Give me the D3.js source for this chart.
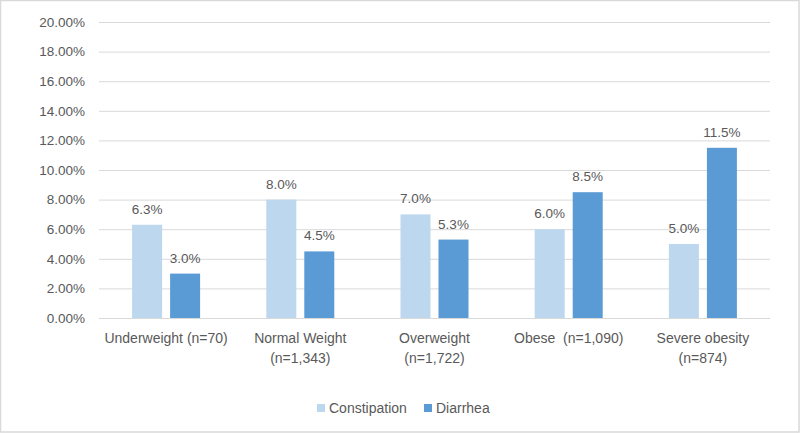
<!DOCTYPE html>
<html>
<head>
<meta charset="utf-8">
<script src="https://cdn.jsdelivr.net/npm/d3@7"></script>
<style>
  html, body { margin: 0; padding: 0; background: #fff; }
  svg { display: block; }
  text { font-family: "Liberation Sans", Arial, sans-serif; fill: #595959; }
</style>
</head>
<body>
<svg id="chart" width="800" height="433"></svg>
<script>
const categories = [
  ["Underweight (n=70)"],
  ["Normal Weight", "(n=1,343)"],
  ["Overweight", "(n=1,722)"],
  ["Obese  (n=1,090)"],
  ["Severe obesity", "(n=874)"]
];
const seriesNames = ["Constipation", "Diarrhea"];
const constipation = [6.3, 8.0, 7.0, 6.0, 5.0];
const diarrhea = [3.0, 4.5, 5.3, 8.5, 11.5];
const yTicks = [0, 2, 4, 6, 8, 10, 12, 14, 16, 18, 20];
const colors = ["#BDD7EE", "#5B9BD5"];

const svg = d3.select("#chart");
const W = 800, H = 433;

// outer frame
svg.append("rect").attr("x", 0.5).attr("y", 0.5).attr("width", W - 1.5).attr("height", H - 1.5)
  .attr("fill", "#fff").attr("stroke", "#d9d9d9").attr("stroke-width", 1.5);

const plot = { left: 99, right: 770, top: 22, bottom: 318 };

const y = d3.scaleLinear().domain([0, 20]).range([plot.bottom, plot.top]);
const x0 = d3.scaleBand().domain(d3.range(categories.length)).range([plot.left, plot.right]).paddingInner(0).paddingOuter(0);
const bw = 30, gap = 8;
const x1 = d3.scaleBand().domain([0, 1]).range([0, bw * 2 + gap]).paddingInner(gap / (bw + gap)).paddingOuter(0);

// gridlines
const yAxis = d3.axisLeft(y).tickValues(yTicks).tickSize(-(plot.right - plot.left))
  .tickFormat(d => d.toFixed(2) + "%").tickPadding(14);
const gy = svg.append("g").attr("transform", `translate(${plot.left},0)`).call(yAxis);
gy.select(".domain").remove();
gy.selectAll(".tick line").attr("stroke", "#d9d9d9").attr("stroke-width", 1);
gy.selectAll(".tick text").attr("font-size", 13.5).attr("fill", "#595959")
  .style("font-family", "'Liberation Sans', Arial, sans-serif");

// bars
const data = categories.map((c, i) => ({ i, vals: [constipation[i], diarrhea[i]] }));
const groupW = bw * 2 + gap;
const groups = svg.append("g").selectAll("g").data(data).join("g")
  .attr("transform", d => `translate(${x0(d.i) + (x0.bandwidth() - groupW) / 2},0)`);

groups.selectAll("rect").data(d => d.vals.map((v, k) => ({ v, k }))).join("rect")
  .attr("x", d => x1(d.k)).attr("width", x1.bandwidth())
  .attr("y", d => y(d.v)).attr("height", d => y(0) - y(d.v))
  .attr("fill", d => colors[d.k]);

groups.selectAll("text.lbl").data(d => d.vals.map((v, k) => ({ v, k }))).join("text")
  .attr("class", "lbl")
  .attr("x", d => x1(d.k) + x1.bandwidth() / 2)
  .attr("y", d => y(d.v) - 11)
  .attr("text-anchor", "middle").attr("font-size", 13.5)
  .text(d => d.v.toFixed(1) + "%");

// baseline axis
svg.append("line").attr("x1", plot.left).attr("x2", plot.right)
  .attr("y1", y(0) + 0.5).attr("y2", y(0) + 0.5).attr("stroke", "#d9d9d9").attr("stroke-width", 1);

// category labels
const cat = svg.append("g").selectAll("text").data(categories).join("text")
  .attr("text-anchor", "middle").attr("font-size", 14)
  .style("white-space", "pre").attr("xml:space", "preserve")
  .attr("x", (d, i) => x0(i) + x0.bandwidth() / 2)
  .attr("y", 343);
cat.selectAll("tspan").data(d => d).join("tspan")
  .attr("x", function () { return this.parentNode.getAttribute("x"); })
  .attr("dy", (d, j) => j === 0 ? 0 : 19.5)
  .text(d => d);

// legend
const legend = svg.append("g");
const legendItems = [
  { name: seriesNames[0], color: colors[0], x: 317 },
  { name: seriesNames[1], color: colors[1], x: 424 }
];
legendItems.forEach(it => {
  legend.append("rect").attr("x", it.x).attr("y", 404).attr("width", 8).attr("height", 8).attr("fill", it.color);
  legend.append("text").attr("x", it.x + 12).attr("y", 412.5).attr("font-size", 14).text(it.name);
});
</script>
</body>
</html>
